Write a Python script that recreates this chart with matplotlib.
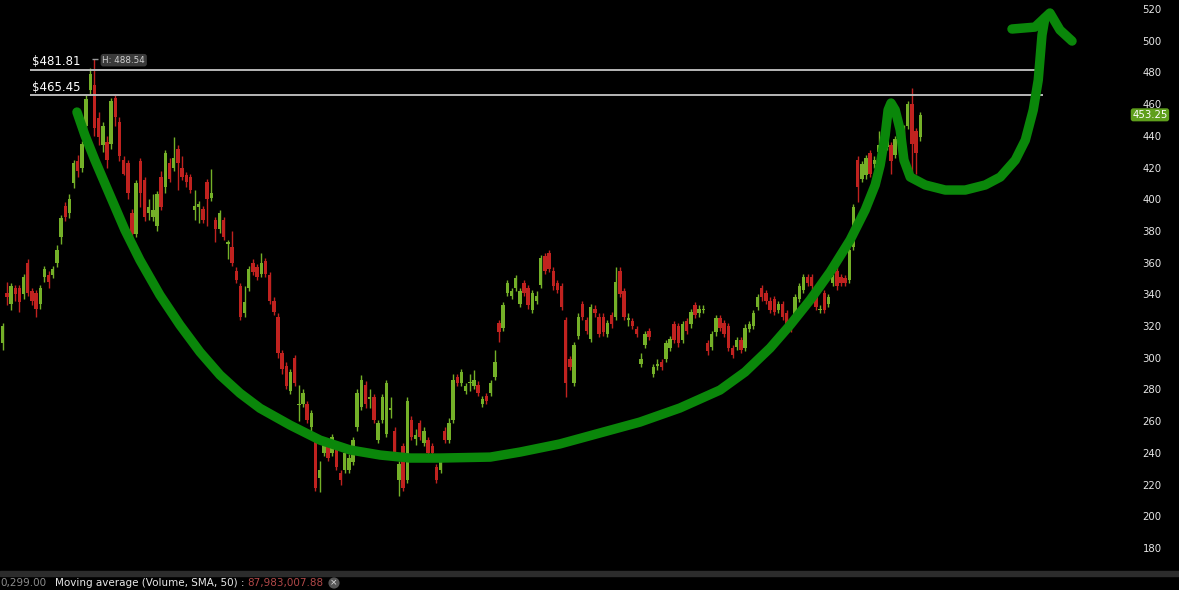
import numpy as np
import matplotlib
matplotlib.use("Agg")
import matplotlib.pyplot as plt
from matplotlib.patches import Rectangle

# daily candles (oldest first)
opens = [
    309, 341, 334, 344, 344, 340, 360, 342, 341, 334, 351, 352, 352, 360, 376, 396, 391, 410, 424, 420,
    446, 469, 472, 451, 434, 436, 435, 464, 449, 425, 423, 391, 378, 424, 412, 391, 389, 383, 414, 408,
    423, 420, 432, 420, 415, 414, 393, 395, 394, 411, 401, 387, 381, 387, 372, 370, 355, 345, 328, 344,
    360, 357, 353, 361, 352, 336, 326, 303, 295, 279, 300, 270, 271, 271, 256, 248, 224, 240, 246, 240,
    244, 227, 229, 229, 234, 256, 269, 283, 274, 275, 248, 261, 252, 267, 254, 223, 244, 223, 261, 249,
    259, 246, 248, 244, 231, 229, 254, 248, 261, 288, 284, 279, 284, 282, 283, 271, 276, 278, 288, 322,
    319, 341, 339, 344, 334, 347, 344, 330, 336, 346, 364, 366, 355, 347, 345, 324, 299, 284, 314, 334,
    324, 312, 331, 326, 326, 315, 327, 326, 355, 342, 324, 323, 318, 296, 308, 317, 290, 295, 297, 299,
    306, 321, 320, 311, 323, 321, 333, 328, 330, 309, 307, 316, 325, 322, 320, 306, 307, 311, 306, 318,
    320, 332, 344, 341, 336, 337, 330, 334, 328, 322, 324, 337, 343, 351, 351, 343, 330, 341, 334, 347,
    355, 351, 350, 349, 370, 425, 413, 415, 429, 422, 430, 439, 433, 434, 428, 440, 441, 446, 460, 443,
    439,
]
closes = [
    320, 338, 345, 340, 335, 351, 341, 336, 331, 344, 356, 348, 356, 368, 388, 389, 400, 423, 418, 435,
    463, 479, 445, 439, 446, 425, 462, 452, 427, 416, 404, 378, 410, 404, 389, 395, 393, 403, 395, 429,
    413, 426, 423, 414, 411, 406, 396, 397, 387, 400, 404, 381, 391, 376, 373, 360, 349, 326, 335, 356,
    354, 351, 360, 353, 336, 329, 303, 293, 282, 291, 284, 271, 278, 261, 265, 218, 229, 246, 237, 250,
    231, 223, 240, 237, 248, 278, 286, 271, 274.5, 261, 259, 275, 284, 268, 240, 233, 218, 273, 250, 251,
    250, 254, 240, 240, 223, 237, 248, 259, 286, 284, 291, 282, 284.5, 286, 278, 274, 273, 284, 297, 316,
    333, 347, 342, 350, 342, 341, 333, 341, 339, 363, 355, 356, 345, 343, 332, 284, 294, 308, 326, 326,
    317, 332, 328, 315, 316, 322, 321, 348, 340, 326, 324.5, 320, 315, 299, 315, 313, 294, 296, 294, 309,
    312, 311, 309, 321, 317, 329, 327, 331, 330.5, 304, 315, 325, 319, 315, 306, 302, 311, 305, 319, 321,
    328, 338, 338, 336, 330, 329, 334, 326, 320, 318, 338, 345, 351, 347, 345, 332, 330.5, 330, 338, 351,
    345, 347, 347, 368, 395, 408, 422, 426, 416, 425, 434, 433, 440, 424, 438, 436, 445, 460, 435, 429,
    453.25,
]
highs = [
    322, 348, 347, 346, 346, 353, 362, 344, 343, 346, 358, 355, 358, 371, 390, 398, 403, 425, 428, 437,
    466, 483, 488.54, 455, 449, 440, 464, 466, 452, 427, 425, 394, 412, 426, 414, 400, 403, 405, 418, 431,
    426, 439, 434, 427, 417, 416, 406, 399, 396, 413, 419, 389, 393, 389, 374, 380, 357, 347, 345, 358,
    362, 359, 366, 363, 354, 338, 328, 305, 297, 293, 302, 283, 280, 273, 267, 250, 235, 248, 248, 252,
    246, 229, 242, 239, 250, 280, 289, 285, 280, 277, 261, 277, 286, 275, 256, 235, 246, 275, 263, 255,
    261, 256, 250, 246, 233, 239, 256, 262, 290, 290, 293, 284, 290, 292, 285, 276, 278, 286, 305, 324,
    335, 349, 344, 352, 344, 349, 346, 343, 342, 365, 366, 368, 357, 349, 347, 326, 301, 310, 328, 336,
    326, 334, 333, 328, 328, 324, 329, 357, 357, 344, 328, 325, 320, 303, 317, 319, 296, 299, 299, 311,
    314, 323, 322, 323, 325, 331, 335, 333, 333, 311, 317, 327, 327, 324, 322, 308, 313, 313, 321, 323,
    330, 340, 346, 343, 338, 339, 336, 336, 330, 324, 340, 347, 353, 353, 353, 345, 333, 343, 340, 353,
    357, 353, 352, 370, 397, 427, 424, 428, 431, 427, 443, 441, 442, 436, 440, 442, 447, 462, 470, 445,
    455,
]
lows = [
    305, 333, 330, 336, 329, 337, 339, 333, 326, 331, 348, 344, 350, 357, 372, 386, 388, 407, 414, 417,
    443, 466, 440, 434, 430, 420, 432, 446, 424, 415, 400, 375, 376, 395, 386, 387, 386, 380, 393, 404,
    411, 418, 406, 412, 408, 404, 387, 385, 385, 383, 399, 373, 379, 374, 362, 358, 347, 324, 326, 342,
    352, 349, 351, 351, 334, 327, 300, 290, 280, 277, 282, 260, 269, 259, 254, 216, 215, 238, 235, 238,
    229, 220, 227, 227, 232, 254, 267, 268, 268, 259, 246, 259, 250, 262, 238, 213, 216, 221, 248, 245,
    248, 244, 238, 238, 221, 227, 246, 246, 259, 282, 282, 277, 279, 280, 276, 269, 271, 276, 286, 310,
    317, 339, 337, 342, 332, 339, 331, 328, 334, 344, 353, 354, 343, 341, 330, 275, 292, 282, 312, 324,
    315, 310, 326, 313, 314, 313, 319, 324, 338, 324, 320, 318, 313, 294, 306, 311, 288, 292, 292, 297,
    304, 309, 307, 309, 315, 319, 325, 326, 328, 302, 305, 314, 317, 313, 304, 300, 305, 303, 304, 316,
    318, 330, 336, 334, 328, 327, 328, 324, 318, 316, 322, 335, 341, 345, 343, 330, 328, 328, 332, 345,
    343, 345, 345, 347, 368, 398, 411, 413, 414, 420, 428, 431, 431, 416, 426, 434, 439, 444, 417, 416,
    437,
]

# price levels and last-price tag
level_prices = [481.81, 465.45]
level_labels = ["$481.81", "$465.45"]
high_price = 488.54
last_price = 453.25
yticks = list(range(180, 540, 20))

# hand-drawn cup-and-handle stroke (candle index, price)
cup_x = [17.8, 19.7, 22.1, 25.7, 29.3, 32.9, 37.7, 42.5, 47.3, 52.1, 56.9, 61.7, 68.9, 76.1, 83.3, 90.5,
         97.7, 104.9, 116.9, 124.1, 133.6, 143.2, 152.8, 162.4, 172.0, 178.0, 184.0, 188.8, 193.6, 198.4,
         203.2, 206.8, 209.2, 210.4, 211.6, 212.3, 213.0, 214.0, 215.2, 216.1, 217.6, 221.2, 226.0, 230.8,
         235.6, 239.2, 242.8, 245.2, 247.1, 248.3, 248.8, 249.2, 249.9]
cup_y = [455.0, 440.5, 424.7, 402.6, 380.6, 361.6, 339.5, 320.6, 303.6, 289.1, 277.6, 268.1, 257.5, 248.0,
         241.8, 238.6, 236.7, 236.7, 237.3, 240.5, 245.6, 252.5, 259.4, 268.3, 279.6, 291.0, 306.1, 320.6,
         336.4, 354.1, 374.3, 393.2, 409.0, 421.6, 440.5, 456.3, 460.7, 456.3, 443.7, 424.7, 414.0, 409.0,
         405.8, 405.8, 409.0, 414.0, 424.7, 437.3, 456.3, 475.2, 491.0, 503.6, 514.3]
head_x = [242.0, 247.5, 251.1, 253.5, 256.4]
head_y = [507.4, 508.6, 517.5, 506.8, 499.8]

GREEN = "#74b028"
RED = "#c0221f"
PEN = "#0a870a"

fig = plt.figure(figsize=(11.79, 5.90), dpi=100)
fig.patch.set_facecolor("black")
ax = fig.add_axes([0, 0.034, 1130 / 1179, 0.966])
ax.set_facecolor("black")

o = np.array(opens, dtype=float)
c = np.array(closes, dtype=float)
h = np.array(highs, dtype=float)
l = np.array(lows, dtype=float)
idx = np.arange(len(o))
cols = np.where(c >= o, GREEN, RED)

ax.vlines(idx, l, h, colors=cols, lw=1)
ax.bar(idx, np.maximum(np.abs(c - o), 0.9), bottom=np.minimum(o, c), width=0.82, color=cols, linewidth=0)

# horizontal levels
ax.hlines(level_prices, 6.5, 249.5, color="#b8b8b8", lw=1.4)
for p, lab in zip(level_prices, level_labels):
    ax.text(7.0, p + 1.2, lab, color="white", fontsize=8.5, va="bottom", ha="left")

ax.hlines(high_price, 21.4, 22.8, color="#999999", lw=1)
ax.text(23.9, high_price - 0.8, "H: 488.54", color="#d0d0d0", fontsize=6.3, va="center", ha="left",
        bbox=dict(boxstyle="round,pad=0.2,rounding_size=0.3", fc="#3a3a3a", ec="none"))

# hand drawn stroke
ax.plot(cup_x, cup_y, color=PEN, lw=6.8, solid_capstyle="round", solid_joinstyle="round")
ax.plot(head_x, head_y, color=PEN, lw=6.8, solid_capstyle="round", solid_joinstyle="round")

ax.set_xlim(-0.65, 270.3)
ax.set_ylim(166.1, 525.7)
ax.yaxis.tick_right()
ax.set_yticks(yticks)
ax.tick_params(axis="y", length=0, pad=9, labelcolor="#e6e6e6", labelsize=7.3)
ax.tick_params(axis="x", length=0, labelbottom=False)
for s in ax.spines.values():
    s.set_visible(False)

ax.text(1.002, last_price, "453.25", transform=ax.get_yaxis_transform(), color="white", fontsize=7.3,
        va="center", ha="left", clip_on=False,
        bbox=dict(boxstyle="round,pad=0.15,rounding_size=0.25", fc="#5f9f1c", ec="none"))

# status bar at the bottom
fig.patches.append(Rectangle((0, (590 - 576) / 590), 1, 5 / 590, transform=fig.transFigure,
                             color="#2c2c2c", zorder=0))
yb = 1 - 583 / 590
fig.text(0, yb, "0,299.00", color="#8c8c8c", fontsize=7.5, va="center")
fig.text(55 / 1179, yb, "Moving average (Volume, SMA, 50) :", color="#e8e8e8", fontsize=7.5, va="center")
fig.text(247 / 1179, yb, "87,983,007.88", color="#b04848", fontsize=7.5, va="center")
fig.text(334 / 1179, yb, "×", color="#dddddd", fontsize=6.5, va="center", ha="center",
         bbox=dict(boxstyle="circle,pad=0.12", fc="#555555", ec="none"))

fig.savefig("out.png", dpi=100, facecolor="black")
